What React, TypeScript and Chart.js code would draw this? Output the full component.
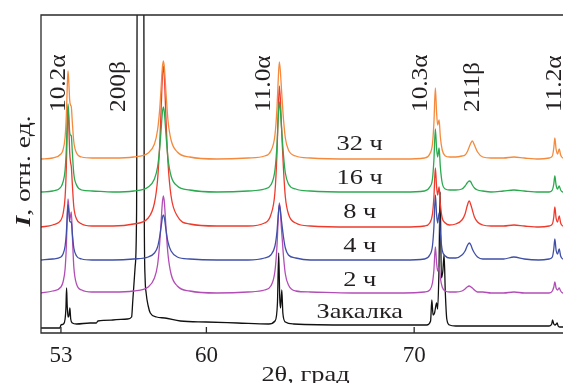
import React, { useEffect, useRef } from "react";
import { Chart, registerables } from "chart.js";

Chart.register(...registerables);

// ---------- data ----------
const xMin = 52.04;
const xMax = 77.5;
const xTickValues = [53, 60, 70];

// shared 2θ grid for the annealed samples
const twoTheta = [
  52.04, 52.6, 53.0, 53.1, 53.2, 53.26, 53.3, 53.34, 53.38, 53.42,
  53.46, 53.5, 53.55, 53.62, 53.75, 54.0, 54.5, 55.5, 56.5, 57.2,
  57.5, 57.65, 57.75, 57.82, 57.88, 57.93, 57.98, 58.05, 58.15, 58.3,
  58.6, 59.2, 60.5, 62.0, 62.8, 63.1, 63.3, 63.4, 63.45, 63.51,
  63.56, 63.61, 63.65, 63.71, 63.8, 63.95, 64.3, 65.0, 67.0, 69.5,
  70.5, 70.75, 70.88, 70.95, 71.02, 71.08, 71.13, 71.2, 71.26, 71.35,
  71.5, 71.7, 72.0, 72.3, 72.45, 72.55, 72.65, 72.73, 72.8, 72.9,
  73.05, 73.3, 73.7, 74.3, 74.8, 75.3, 76.0, 76.5, 76.65, 76.72,
  76.77, 76.83, 76.9, 76.98, 77.05, 77.15, 77.5,
];

const h32 = [
  174, 175, 179, 183, 196, 218, 244, 262, 250, 233,
  228, 226, 210, 191, 180, 176, 175, 175, 176, 180,
  189, 203, 223, 245, 265, 272, 265, 242, 213, 193,
  181, 176, 174, 175, 177, 182, 198, 226, 250, 271,
  262, 245, 232, 214, 195, 183, 177, 175, 174, 174,
  175, 179, 189, 210, 245, 220, 208, 213, 196, 183,
  177, 176, 176, 177, 178, 181, 186, 190, 192, 188,
  181, 176, 175, 175, 176, 175, 174, 175, 177, 185,
  195, 184, 179, 184, 178, 175, 174,
];

const h16 = [
  141, 142, 146, 151, 163, 185, 211, 229, 217, 201,
  198, 197, 180, 159, 148, 143, 142, 141, 142, 146,
  154, 166, 184, 203, 220, 226, 220, 200, 175, 157,
  147, 143, 141, 142, 144, 148, 163, 189, 212, 231,
  223, 207, 195, 178, 160, 149, 144, 142, 141, 141,
  142, 146, 154, 173, 204, 184, 176, 185, 166, 150,
  144, 143, 143, 144, 147, 150, 152, 151, 148, 145,
  143, 142, 141, 142, 143, 142, 141, 141, 143, 149,
  157, 148, 144, 147, 143, 141, 141,
];

const h8 = [
  106, 108, 113, 119, 136, 166, 201, 226, 207, 181,
  171, 166, 148, 126, 114, 109, 107, 107, 109, 115,
  130, 153, 187, 223, 255, 267, 255, 217, 171, 137,
  117, 109, 107, 107, 110, 118, 141, 181, 216, 247,
  234, 209, 190, 164, 136, 119, 110, 107, 106, 106,
  107, 110, 119, 136, 165, 146, 138, 146, 129, 115,
  110, 108, 109, 113, 119, 127, 132, 128, 123, 116,
  111, 108, 107, 107, 108, 107, 106, 107, 109, 116,
  126, 115, 111, 117, 110, 107, 106,
];

const h4 = [
  73, 74, 76, 79, 87, 100, 116, 128, 121, 112,
  111, 111, 99, 85, 77, 74, 73, 73, 74, 76,
  80, 86, 96, 106, 115, 118, 115, 104, 91, 82,
  76, 74, 73, 73, 75, 78, 87, 102, 116, 128,
  123, 113, 106, 96, 85, 78, 75, 73, 73, 73,
  74, 78, 87, 106, 138, 118, 110, 120, 100, 83,
  77, 75, 75, 78, 82, 87, 90, 88, 84, 80,
  76, 74, 74, 74, 76, 74, 73, 74, 76, 84,
  94, 83, 79, 84, 77, 74, 73,
];

const h2 = [
  40, 42, 46, 51, 64, 87, 114, 134, 125, 113,
  117, 121, 97, 66, 49, 43, 41, 41, 42, 46,
  55, 68, 89, 111, 130, 137, 130, 107, 79, 59,
  47, 42, 40, 41, 43, 47, 62, 88, 111, 130,
  122, 105, 94, 77, 59, 48, 42, 41, 40, 40,
  41, 43, 50, 63, 86, 70, 62, 66, 55, 46,
  42, 41, 41, 42, 44, 46, 47, 46, 45, 43,
  41, 41, 40, 40, 41, 40, 40, 40, 42, 46,
  51, 45, 43, 45, 42, 40, 40,
];

// quenched sample (own 2θ grid)
const quenchX = [
  52.04, 52.95, 53.0, 53.12, 53.2, 53.24, 53.27, 53.3, 53.34, 53.38,
  53.43, 53.47, 53.55, 53.75, 54.4, 54.7, 54.78, 55.5, 56.2, 56.4,
  56.46, 56.57, 56.64, 56.68, 56.98, 57.01, 57.05, 57.1, 57.2, 57.3,
  57.6, 58.0, 58.75, 60.0, 61.5, 63.0, 63.3, 63.42, 63.48, 63.53,
  63.57, 63.63, 63.68, 63.8, 64.2, 67.0, 70.6, 70.79, 70.85, 70.91,
  70.98, 71.05, 71.08, 71.13, 71.19, 71.25, 71.31, 71.38, 71.44, 71.5,
  71.57, 71.7, 72.0, 74.0, 76.5, 76.62, 76.66, 76.72, 76.78, 76.84,
  76.88, 76.93, 77.0, 77.5,
];
const quenchY = [
  5, 5, 8, 9, 14, 25, 45, 28, 16, 17,
  25, 14, 10, 9, 10, 10, 12, 13, 14, 16,
  33, 66, 120, 420, 420, 120, 55, 40, 27, 20,
  16, 15, 12, 11, 10, 9, 12, 30, 80, 35,
  25, 43, 20, 11, 9, 8, 8, 12, 33, 18,
  20, 28, 30, 24, 60, 141, 55, 62, 78, 40,
  14, 8, 7, 7, 7, 9, 13, 9, 8, 9,
  10, 7, 6, 6,
];

const seriesNames = ["32 ч", "16 ч", "8 ч", "4 ч", "2 ч", "Закалка"];
const seriesColors = ["#F58A3C", "#2BA94F", "#EE3B2E", "#3F4FA6", "#B24DB6", "#111111"];

const peakNames = ["10.2α", "200β", "11.0α", "10.3α", "211β", "11.2α"];
const peakLabelX = [53.19, 56.08, 63.05, 70.63, 73.13, 77.08];

// ---------- styling ----------
const SERIF = '"Liberation Serif", "Times New Roman", Times, serif';
const TEXT = "#231f20";

function drawParts(
  ctx: CanvasRenderingContext2D,
  parts: { text: string; font: string }[],
  x: number,
  y: number,
  rot: number,
  align: "left" | "center",
  sx: number
) {
  ctx.save();
  ctx.translate(x, y);
  ctx.rotate(rot);
  ctx.scale(sx, 1);
  ctx.textBaseline = "alphabetic";
  ctx.textAlign = "left";
  ctx.fillStyle = TEXT;
  let total = 0;
  parts.forEach((p) => {
    ctx.font = p.font;
    total += ctx.measureText(p.text).width;
  });
  let cx = align === "center" ? -total / 2 : 0;
  parts.forEach((p) => {
    ctx.font = p.font;
    ctx.fillText(p.text, cx, 0);
    cx += ctx.measureText(p.text).width;
  });
  ctx.restore();
}

const overlayPlugin = {
  id: "overlay",
  afterDraw(chart: any) {
    const { ctx, chartArea: a, scales } = chart;
    const xs = scales.x;
    const ys = scales.y;
    ctx.save();
    ctx.strokeStyle = "#2a2a2a";
    ctx.lineWidth = 1.3;
    ctx.beginPath();
    ctx.moveTo(a.right + 20, a.top);
    ctx.lineTo(a.left, a.top);
    ctx.lineTo(a.left, a.bottom);
    ctx.lineTo(a.right + 20, a.bottom);
    ctx.stroke();
    ctx.beginPath();
    xs.ticks.forEach((t: any) => {
      const px = xs.getPixelForValue(t.value);
      ctx.moveTo(px, a.bottom);
      ctx.lineTo(px, a.bottom - 6);
    });
    ctx.stroke();
    ctx.restore();

    const font22 = `22px ${SERIF}`;
    peakNames.forEach((name, i) => {
      const px = xs.getPixelForValue(peakLabelX[i]);
      drawParts(ctx, [{ text: name, font: `23px ${SERIF}` }], px, ys.getPixelForValue(221), -Math.PI / 2, "left", 1.1);
    });
    const labelBase = [183, 149, 115, 81, 47, 15];
    seriesNames.forEach((name, i) => {
      drawParts(ctx, [{ text: name, font: font22 }], xs.getPixelForValue(67.38), ys.getPixelForValue(labelBase[i]), 0, "center", 1.2);
    });
    drawParts(ctx, [{ text: "2θ, град", font: font22 }], (a.left + a.right) / 2, 381, 0, "center", 1.2);
    drawParts(
      ctx,
      [
        { text: "I", font: `italic bold 22px ${SERIF}` },
        { text: ", отн. ед.", font: font22 },
      ],
      30,
      171,
      -Math.PI / 2,
      "center",
      1.25
    );
  },
};

export default function App() {
  const ref = useRef<HTMLCanvasElement | null>(null);

  useEffect(() => {
    if (!ref.current) return;
    const series = [h32, h16, h8, h4, h2];
    const datasets: any[] = series.map((ys, i) => ({
      label: seriesNames[i],
      data: twoTheta.map((x, j) => ({ x, y: ys[j] })),
      borderColor: seriesColors[i],
      borderWidth: 1.3,
      pointRadius: 0,
      cubicInterpolationMode: "monotone",
      fill: false,
      clip: 0,
    }));
    datasets.push({
      label: seriesNames[5],
      data: quenchX.map((x, j) => ({ x, y: quenchY[j] })),
      borderColor: seriesColors[5],
      borderWidth: 1.3,
      pointRadius: 0,
      cubicInterpolationMode: "monotone",
      fill: false,
      clip: 0,
    });

    const chart = new Chart(ref.current, {
      type: "line",
      data: { datasets },
      options: {
        animation: false,
        responsive: false,
        devicePixelRatio: 1,
        layout: { padding: { left: 41, right: 5, top: 15, bottom: 0 } },
        plugins: { legend: { display: false }, tooltip: { enabled: false } },
        scales: {
          x: {
            type: "linear",
            min: xMin,
            max: xMax,
            grid: { display: false, drawTicks: false },
            border: { display: false },
            afterBuildTicks: (scale: any) => {
              scale.ticks = xTickValues.map((v) => ({ value: v }));
            },
            afterFit: (scale: any) => {
              scale.height = 50;
            },
            ticks: {
              autoSkip: false,
              maxRotation: 0,
              padding: 9,
              color: TEXT,
              font: { family: SERIF, size: 23 },
              callback: (v: any) => String(v),
            },
          },
          y: {
            type: "linear",
            display: false,
            min: 0,
            max: 318,
          },
        },
      },
      plugins: [overlayPlugin],
    });
    return () => chart.destroy();
  }, []);

  return (
    <div
      style={{
        position: "fixed",
        left: 0,
        top: 0,
        width: 563,
        height: 383,
        overflow: "hidden",
        background: "#fff",
      }}
    >
      <canvas ref={ref} width={575} height={383} style={{ display: "block", width: 575, height: 383 }} />
    </div>
  );
}
